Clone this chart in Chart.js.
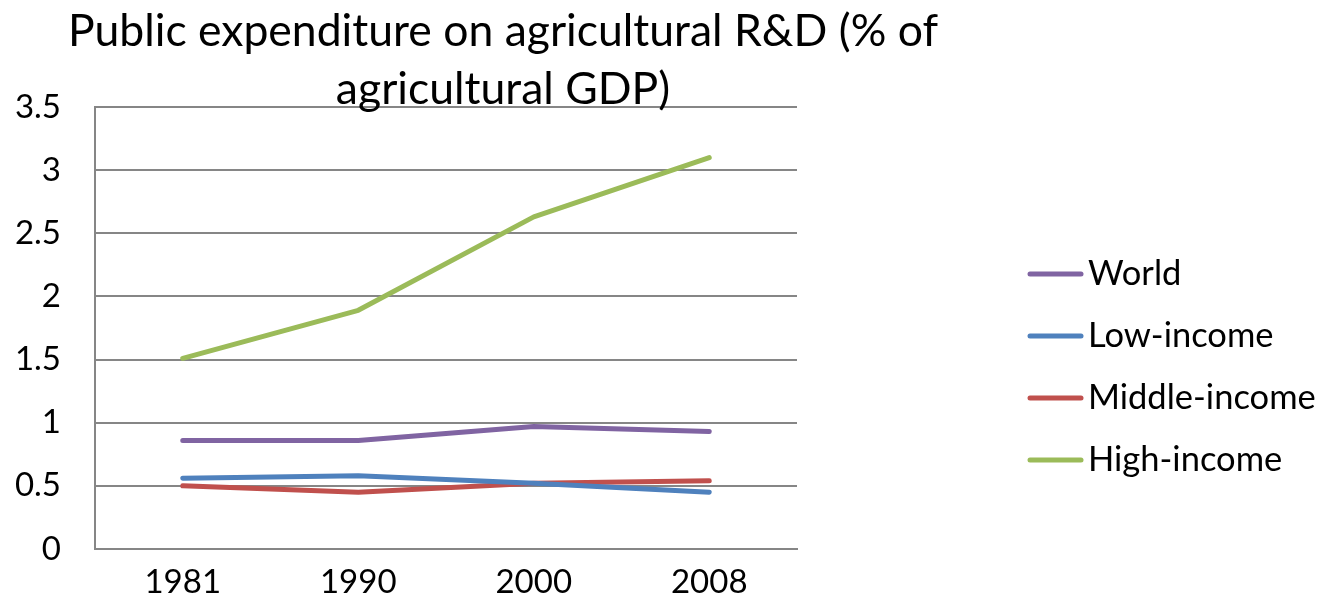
<!DOCTYPE html>
<html>
<head>
<meta charset="utf-8">
<title>Public expenditure on agricultural R&amp;D</title>
<script src="https://cdn.jsdelivr.net/npm/chart.js@4/dist/chart.umd.min.js"></script>
<style>
  html, body { margin: 0; padding: 0; background: #ffffff; }
  #wrap { width: 1320px; height: 610px; position: relative; }
</style>
</head>
<body>
<div id="wrap"><canvas id="chart" width="1320" height="610"></canvas></div>
<script>
// Survey years on the category axis
const years = ['1981', '1990', '2000', '2008'];

// Public agricultural R&D spending, % of agricultural GDP
const world = [0.86, 0.86, 0.97, 0.93];
const lowIncome = [0.56, 0.58, 0.52, 0.45];
const middleIncome = [0.50, 0.45, 0.52, 0.54];
const highIncome = [1.51, 1.89, 2.63, 3.10];

const seriesNames = ['World', 'Low-income', 'Middle-income', 'High-income'];
const titleLines = ['Public expenditure on agricultural R&D (% of', 'agricultural GDP)'];

const FONT = 'Lato, "Open Sans", sans-serif';
const colors = ['#8064A2', '#4F81BD', '#C0504D', '#9BBB59'];
const gridColor = '#868686';

function series(label, data, color) {
  return {
    label: label,
    data: data,
    borderColor: color,
    backgroundColor: color,
    borderWidth: 5,
    borderCapStyle: 'round',
    borderJoinStyle: 'round',
    pointRadius: 0,
    pointHoverRadius: 0,
    tension: 0,
    fill: false
  };
}

// Two-line title, centred above the plot
const titlePlugin = {
  id: 'twoLineTitle',
  afterDraw(chart) {
    const ctx = chart.ctx;
    ctx.save();
    ctx.fillStyle = '#000000';
    ctx.font = '44.5px ' + FONT;
    ctx.textAlign = 'center';
    ctx.textBaseline = 'alphabetic';
    const cx = 503;
    ctx.fillText(titleLines[0], cx, 46);
    ctx.fillText(titleLines[1], cx, 104);
    ctx.restore();
  }
};

// Line-swatch legend to the right of the plot
const sideLegend = {
  id: 'sideLegend',
  afterDraw(chart) {
    const ctx = chart.ctx;
    ctx.save();
    ctx.font = '34.5px ' + FONT;
    ctx.textBaseline = 'middle';
    ctx.textAlign = 'left';
    chart.data.datasets.forEach((ds, i) => {
      const y = 274 + i * 62;
      ctx.strokeStyle = ds.borderColor;
      ctx.lineWidth = 5;
      ctx.lineCap = 'round';
      ctx.beginPath();
      ctx.moveTo(1030, y);
      ctx.lineTo(1081, y);
      ctx.stroke();
      ctx.fillStyle = '#000000';
      ctx.fillText(ds.label, 1088, y);
    });
    ctx.restore();
  }
};

new Chart(document.getElementById('chart'), {
  type: 'line',
  data: {
    labels: years,
    datasets: [
      series(seriesNames[0], world, colors[0]),
      series(seriesNames[1], lowIncome, colors[1]),
      series(seriesNames[2], middleIncome, colors[2]),
      series(seriesNames[3], highIncome, colors[3])
    ]
  },
  options: {
    responsive: false,
    animation: false,
    devicePixelRatio: 1,
    layout: { padding: { top: 107, right: 523, bottom: 0, left: 0 } },
    plugins: {
      legend: { display: false },
      title: { display: false },
      tooltip: { enabled: false }
    },
    scales: {
      x: {
        type: 'category',
        offset: true,
        grid: { display: false, drawTicks: false },
        border: { display: true, color: gridColor, width: 2 },
        ticks: {
          color: '#000000',
          font: { family: FONT, size: 33 },
          padding: 14,
          maxRotation: 0
        },
        afterFit(scale) { scale.height = 61; }
      },
      y: {
        min: 0,
        max: 3.5,
        grid: { color: gridColor, lineWidth: 2, drawTicks: false },
        border: { display: true, color: gridColor, width: 2 },
        ticks: {
          stepSize: 0.5,
          color: '#000000',
          font: { family: FONT, size: 33 },
          padding: 34,
          callback: (v) => String(Number(v))
        },
        afterFit(scale) { scale.width = 95; }
      }
    }
  },
  plugins: [titlePlugin, sideLegend]
});
</script>
</body>
</html>
